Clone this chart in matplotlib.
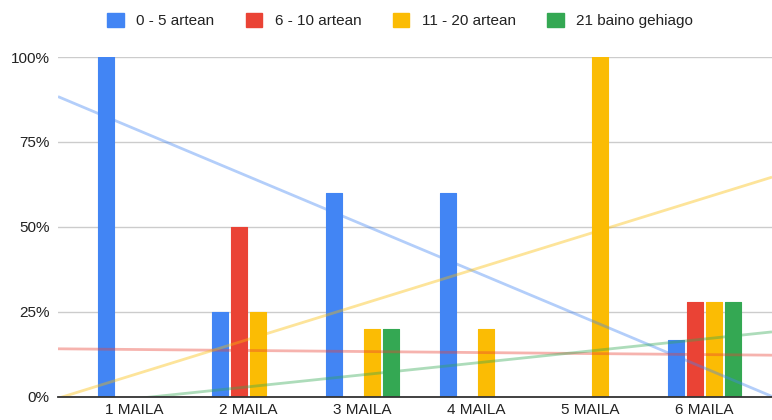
import numpy as np
import matplotlib.pyplot as plt
from matplotlib.patches import Patch
from matplotlib.ticker import FuncFormatter

############################################
# data
############################################
categories = ['1 MAILA', '2 MAILA', '3 MAILA', '4 MAILA', '5 MAILA', '6 MAILA']
series_names = ['0 - 5 artean', '6 - 10 artean', '11 - 20 artean', '21 baino gehiago']

v_0_5 = [100, 25, 60, 60, 0, 16.7]
v_6_10 = [0, 50, 0, 0, 0, 27.8]
v_11_20 = [0, 25, 20, 20, 100, 27.8]
v_21 = [0, 0, 20, 0, 0, 27.8]

# linear trendlines: value at first and last category
trend_first = [78.9, 13.9, 6.5, -0.6]
trend_last = [8.4, 12.4, 58.5, 17.0]

colors = ['#4285F4', '#EA4335', '#FBBC04', '#34A853']
yticks = [0, 25, 50, 75, 100]

plt.rcParams['font.family'] = ['Liberation Sans', 'DejaVu Sans']

############################################
# figure
############################################
fig = plt.figure(figsize=(7.72, 4.2), dpi=100)
ax = fig.add_axes([58 / 772, 23.3 / 420, 1 - 58 / 772, 339.7 / 420])

x = np.arange(len(categories))
step = 0.1665
width = 0.14
all_vals = [v_0_5, v_6_10, v_11_20, v_21]

for i, vals in enumerate(all_vals):
    vals = np.array(vals, dtype=float)
    pos = x + (i - 1.5) * step
    keep = vals > 0
    ax.bar(pos[keep], vals[keep], width=width, color=colors[i],
           edgecolor=colors[i], linewidth=0.8, joinstyle='round', zorder=3)

# trendlines across the full plot width
xl = (-0.67, 5.59)
for i in range(4):
    slope = (trend_last[i] - trend_first[i]) / 5.0
    xs = np.array(xl)
    ys = trend_first[i] + slope * xs
    ax.plot(xs, ys, color=colors[i], alpha=0.4, lw=2, zorder=4,
            solid_capstyle='butt')

ax.set_xlim(*xl)
ax.set_ylim(0, 100)
ax.set_yticks(yticks)
ax.yaxis.set_major_formatter(FuncFormatter(lambda v, p: f'{v:.0f}%'))
ax.set_xticks(x)
ax.set_xticklabels(categories)
ax.tick_params(length=0, labelsize=11, colors='#222222')
ax.tick_params(axis='x', pad=4.5)
ax.tick_params(axis='y', pad=6)
ax.grid(axis='y', color='#cccccc', lw=1, zorder=0)
ax.set_axisbelow(True)
for s in ['top', 'right', 'left']:
    ax.spines[s].set_visible(False)
ax.spines['bottom'].set_color('#333333')
ax.spines['bottom'].set_linewidth(1.3)
ax.spines['bottom'].set_zorder(5)

handles = [Patch(facecolor=c, edgecolor=c) for c in colors]
fig.legend(handles, series_names, loc='center', bbox_to_anchor=(400 / 772, 1 - 20.5 / 420),
           ncol=4, frameon=False, fontsize=11, handlelength=1.1, handleheight=1.1,
           handletextpad=0.8, columnspacing=2.05, labelcolor='#222222')

fig.savefig('out.png', dpi=100)
